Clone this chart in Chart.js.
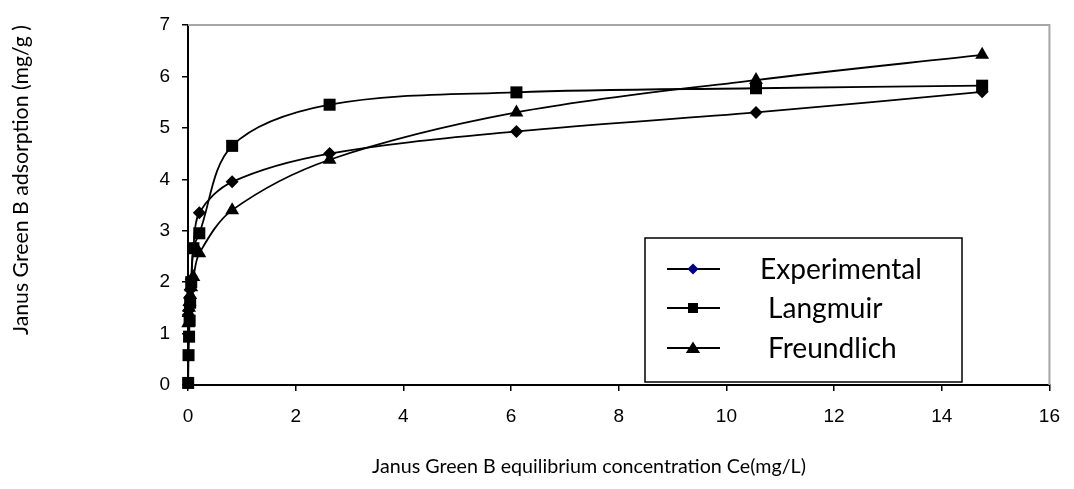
<!DOCTYPE html>
<html><head><meta charset="utf-8">
<script src="https://cdn.jsdelivr.net/npm/chart.js@4.4.1/dist/chart.umd.min.js"></script>
<style>html,body{margin:0;padding:0;background:#fff}#wrap{width:1074px;height:489px;position:relative}</style>
</head><body><div id="wrap"><canvas id="c" width="1074" height="489"></canvas></div>
<script>
// Equilibrium concentration Ce (mg/L)
const ce = [0.003, 0.01, 0.02, 0.03, 0.04, 0.06, 0.1, 0.21, 0.82, 2.63, 6.1, 10.55, 14.75];
// Adsorption qe (mg/g)
const experimental = [1.36, 1.45, 1.55, 1.7, 1.85, 2.05, 2.66, 3.35, 3.95, 4.5, 4.93, 5.3, 5.7];
const langmuir     = [0.04, 0.58, 0.94, 1.25, 1.6, 2.0, 2.66, 2.95, 4.65, 5.45, 5.69, 5.77, 5.82];
const freundlich   = [1.2, 1.4, 1.5, 1.62, 1.75, 1.9, 2.1, 2.56, 3.4, 4.38, 5.3, 5.93, 6.42];
const seriesNames = ['Experimental', 'Langmuir', 'Freundlich'];
const xTicks = [0, 2, 4, 6, 8, 10, 12, 14, 16];
const yTicks = [0, 1, 2, 3, 4, 5, 6, 7];
const xTitle = 'Janus Green B equilibrium concentration Ce(mg/L)';
const yTitle = 'Janus Green B adsorption (mg/g )';

const pts = ys => ce.map((x, i) => ({x: x, y: ys[i]}));
const TITLE_FONT = 'Lato, "Open Sans", sans-serif';
const TICK_FONT = '"Liberation Sans", Arial, sans-serif';

function fitSize(ctx, text, family, target) {
  ctx.save(); ctx.font = '100px ' + family;
  const w = ctx.measureText(text).width; ctx.restore();
  return 100 * target / w;
}
function marker(ctx, style, x, y, r, fill) {
  ctx.save(); ctx.fillStyle = fill; ctx.beginPath();
  if (style === 'rectRot') { ctx.moveTo(x, y - r); ctx.lineTo(x + r, y); ctx.lineTo(x, y + r); ctx.lineTo(x - r, y); }
  else if (style === 'rect') { ctx.rect(x - r, y - r, 2 * r, 2 * r); }
  else { ctx.moveTo(x, y - r); ctx.lineTo(x + r * 1.1, y + r * 0.75); ctx.lineTo(x - r * 1.1, y + r * 0.75); }
  ctx.closePath(); ctx.fill(); ctx.restore();
}

const decor = {
  id: 'decor',
  beforeDatasetsDraw(chart) {
    const {ctx, chartArea: a} = chart;
    ctx.save();
    ctx.strokeStyle = '#a6a6a6'; ctx.lineWidth = 2;
    ctx.beginPath(); ctx.moveTo(a.left, a.top); ctx.lineTo(a.right, a.top); ctx.lineTo(a.right, a.bottom); ctx.stroke();
    ctx.restore();
  },
  afterDraw(chart) {
    const {ctx} = chart;
    ctx.save();
    ctx.fillStyle = '#000';
    let fs = fitSize(ctx, xTitle, TITLE_FONT, 434);
    ctx.font = fs + 'px ' + TITLE_FONT; ctx.textAlign = 'center'; ctx.textBaseline = 'middle';
    ctx.fillText(xTitle, 589, 467);
    fs = fitSize(ctx, yTitle, TITLE_FONT, 310);
    ctx.font = fs + 'px ' + TITLE_FONT;
    ctx.translate(21, 180); ctx.rotate(-Math.PI / 2); ctx.fillText(yTitle, 0, 0);
    ctx.restore();

    ctx.save();
    ctx.fillStyle = '#fff'; ctx.fillRect(645, 238, 317, 144);
    ctx.strokeStyle = '#000'; ctx.lineWidth = 1.5; ctx.strokeRect(645, 238, 317, 144);
    const rows = [269, 308, 348];
    const styles = [['rectRot', 5.5, '#000080', 760], ['rect', 5, '#000', 768], ['triangle', 6.5, '#000', 768]];
    const lfs = fitSize(ctx, seriesNames[0], TITLE_FONT, 162);
    ctx.font = lfs + 'px ' + TITLE_FONT; ctx.textBaseline = 'middle'; ctx.textAlign = 'left';
    seriesNames.forEach((n, i) => {
      const y = rows[i];
      ctx.strokeStyle = '#000'; ctx.lineWidth = 2;
      ctx.beginPath(); ctx.moveTo(667, y); ctx.lineTo(720, y); ctx.stroke();
      marker(ctx, styles[i][0], 693, y, styles[i][1], styles[i][2]);
      ctx.fillStyle = '#000'; ctx.fillText(n, styles[i][3], y + 1);
    });
    ctx.restore();
  }
};

const common = {showLine: true, borderColor: '#000', backgroundColor: '#000', borderWidth: 1.8,
  pointBorderWidth: 0, tension: 0.33, cubicInterpolationMode: 'default', clip: false};

new Chart(document.getElementById('c'), {
  type: 'scatter',
  data: {datasets: [
    Object.assign({label: seriesNames[0], data: pts(experimental), pointStyle: 'rectRot', pointRadius: 6.5}, common),
    Object.assign({label: seriesNames[1], data: pts(langmuir), pointStyle: 'rect', pointRadius: 8.5}, common),
    Object.assign({label: seriesNames[2], data: pts(freundlich), pointStyle: 'triangle', pointRadius: 8}, common)
  ]},
  options: {
    responsive: false, animation: false, devicePixelRatio: 1,
    layout: {padding: {top: 25, right: 12, left: 0, bottom: 0}},
    plugins: {legend: {display: false}, tooltip: {enabled: false}},
    scales: {
      x: {type: 'linear', min: 0, max: 16,
        afterFit(s) { s.height = 104; },
        afterBuildTicks(s) { s.ticks = xTicks.map(v => ({value: v})); },
        ticks: {font: {family: TICK_FONT, size: 19}, color: '#000', padding: 14, maxRotation: 0},
        grid: {display: true, drawOnChartArea: false, drawTicks: true, tickLength: 6, color: '#000', lineWidth: 1.5},
        border: {display: true, color: '#000', width: 2}},
      y: {type: 'linear', min: 0, max: 7,
        afterFit(s) { s.width = 188; },
        afterBuildTicks(s) { s.ticks = yTicks.map(v => ({value: v})); },
        ticks: {font: {family: TICK_FONT, size: 19}, color: '#000', padding: 12},
        grid: {display: true, drawOnChartArea: false, drawTicks: true, tickLength: 6, color: '#000', lineWidth: 1.5},
        border: {display: true, color: '#000', width: 2}}
    }
  },
  plugins: [decor]
});
</script></body></html>
